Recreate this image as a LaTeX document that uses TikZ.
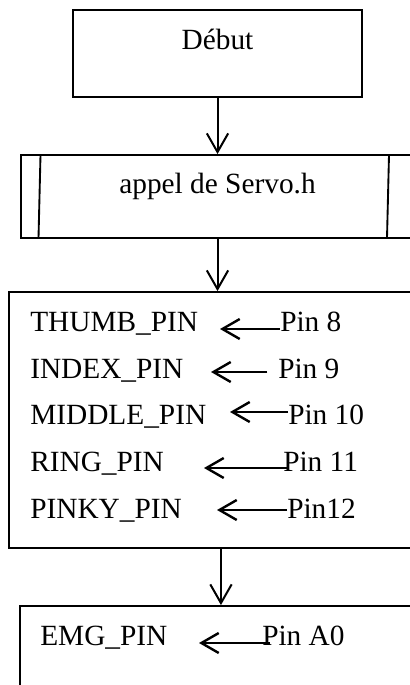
\documentclass[tikz,border=0pt]{standalone}
\usepackage{fontspec}
\setmainfont{Liberation Serif}
\usetikzlibrary{arrows.meta,fit}

\tikzset{
    box/.style={draw, line width=1.4pt, inner sep=0pt},
    txt/.style={inner sep=0pt, anchor=base west, font=\fontsize{22}{26}\selectfont},
    flow/.style={-{Straight Barb[length=14pt, width=16pt]}, line width=1.5pt},
    pinflow/.style={-{Straight Barb[length=13pt, width=15pt]}, line width=1.8pt}
}

\begin{document}
\begin{tikzpicture}[x=0.75pt, y=-0.75pt]
\useasboundingbox (0,0) rectangle (410,685);

% Start
\node[box, fit={(73,10) (362,97)}] (debut) {};
\node[txt, anchor=base] (debuttxt) at (217.5,50) {Début};

% Library call
\node[box, fit={(21,155) (414,238)}] (servo) {};
\draw[line width=1.4pt] (40.5,155) -- (38.5,238);
\draw[line width=1.4pt] (389,155) -- (387,238);
\node[txt, anchor=base] (servotxt) at (217.5,193) {appel de Servo.h};

\draw[flow] (debut.south) -- (debut.south |- servo.north);

% Finger pins
\node[box, fit={(9,292) (426,548)}] (pins) {};
\draw[flow] (servo.south) -- (servo.south |- pins.north);

\node[txt] (thumb)  at (30,331.7) {THUMB\_PIN};
\node[txt] (index)  at (30,378.3) {INDEX\_PIN};
\node[txt] (middle) at (30,424.9) {MIDDLE\_PIN};
\node[txt] (ring)   at (30,471.5) {RING\_PIN};
\node[txt] (pinky)  at (30,518.1) {PINKY\_PIN};

\node[txt] (p8)  at (280,331.7) {Pin 8};
\node[txt] (p9)  at (278,378.3) {Pin 9};
\node[txt] (p10) at (288,424.9) {Pin 10};
\node[txt] (p11) at (283,471.5) {Pin 11};
\node[txt] (p12) at (287,518.1) {Pin12};

\coordinate (h8)  at (220,329);
\coordinate (h9)  at (211,372);
\coordinate (h10) at (230,412);
\coordinate (h11) at (204,468);
\coordinate (h12) at (217,510);

\draw[pinflow] (p8.west |- h8) -- (h8);
\draw[pinflow] ([xshift=-8pt]p9.west |- h9) -- (h9);
\draw[pinflow] (p10.west |- h10) -- (h10);
\draw[pinflow] ([xshift=3pt]p11.west |- h11) -- (h11);
\draw[pinflow] (p12.west |- h12) -- (h12);

% EMG pin
\node[box, fit={(20,606) (426,700)}] (emg) {};
\coordinate (down) at ([xshift=2.6pt]pins.south);
\draw[flow] (down) -- (down |- emg.north);

\node[txt] (emgtxt) at (40,645) {EMG\_PIN};
\node[txt] (pa0)    at (262,645) {Pin A0};
\coordinate (ha0) at (199,643);
\draw[pinflow] ([xshift=6pt]pa0.west |- ha0) -- (ha0);

\end{tikzpicture}
\end{document}
